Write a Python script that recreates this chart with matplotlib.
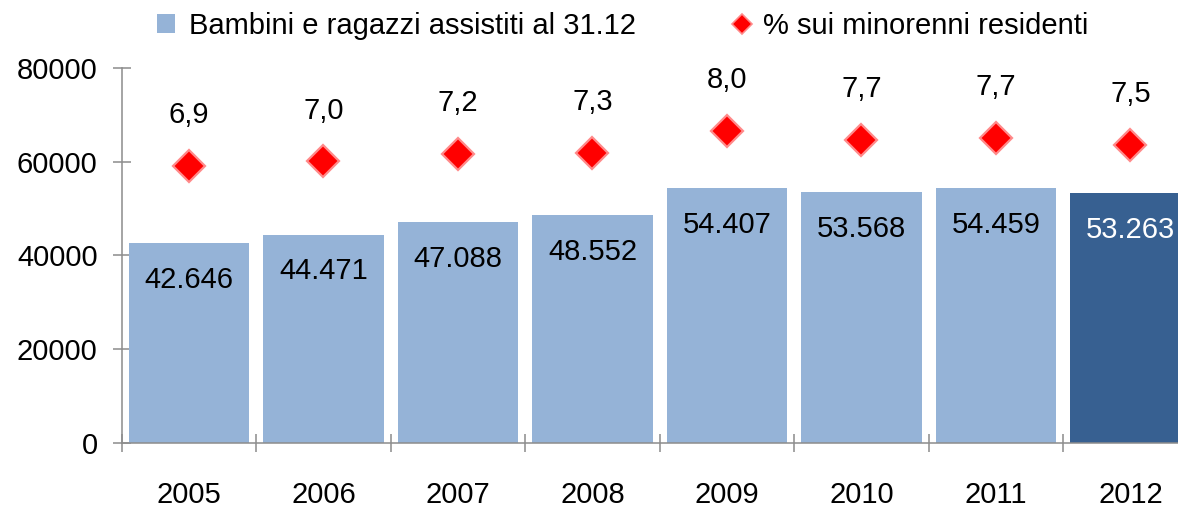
import matplotlib
matplotlib.use("Agg")
import matplotlib.pyplot as plt
from matplotlib.patches import Patch
from matplotlib.lines import Line2D
import numpy as np

plt.rcParams['font.family'] = ['Liberation Sans', 'DejaVu Sans']

years = ['2005', '2006', '2007', '2008', '2009', '2010', '2011', '2012']
assistiti = [42646, 44471, 47088, 48552, 54407, 53568, 54459, 53263]
assistiti_labels = ['42.646', '44.471', '47.088', '48.552', '54.407', '53.568', '54.459', '53.263']
percent = [6.87, 7.00, 7.24, 7.26, 7.96, 7.67, 7.74, 7.52]
percent_labels = ['6,9', '7,0', '7,2', '7,3', '8,0', '7,7', '7,7', '7,5']
yticks = [0, 20000, 40000, 60000, 80000]

light = '#95B3D7'
dark = '#376091'
grey = '#8C8C8C'
FS = 21

W, H = 1178, 509
fig = plt.figure(figsize=(W / 100, H / 100), dpi=100)
left_px, right_px, top_px, bot_px = 121.7, 1197.7, 67.7, 443.3
ax = fig.add_axes([left_px / W, 1 - bot_px / H, (right_px - left_px) / W, (bot_px - top_px) / H])

x = np.arange(len(years))
colors = [light] * (len(years) - 1) + [dark]
bars = ax.bar(x, assistiti, width=0.895, color=colors, zorder=2)
ax.set_xlim(-0.5, len(years) - 0.5)
ax.set_ylim(0, 80000)
ax.set_yticks(yticks)
ax.set_yticklabels([str(v) for v in yticks], fontsize=FS)
ax.set_xticks(x)
ax.set_xticklabels(years, fontsize=FS)
ax.set_xticks(np.arange(len(years) + 1) - 0.5, minor=True)
ax.tick_params(axis='x', which='major', length=0, pad=27.5)
ax.tick_params(axis='x', which='minor', direction='inout', length=12.7, width=1.1, color=grey)
ax.tick_params(axis='y', which='major', direction='inout', length=12.7, width=1.1, color=grey, pad=11)
for s in ['top', 'right']:
    ax.spines[s].set_visible(False)
for s in ['left', 'bottom']:
    ax.spines[s].set_color(grey)
    ax.spines[s].set_linewidth(1.1)

for i, (v, lab) in enumerate(zip(assistiti, assistiti_labels)):
    ax.annotate(lab, (x[i], v), xytext=(0, -26.6), textcoords='offset points',
                ha='center', va='center', fontsize=FS,
                color='white' if i == len(years) - 1 else 'black', zorder=4)

ax2 = ax.twinx()
ax2.set_ylim(-1.81, 9.93)
ax2.set_xlim(-0.5, len(years) - 0.5)
ax2.axis('off')
ax2.plot(x, percent, linestyle='none', marker='D', markersize=16.5,
         markerfacecolor='#FF0000', markeredgecolor='#FF8A8A', markeredgewidth=1.6, zorder=3)
for i, (v, lab) in enumerate(zip(percent, percent_labels)):
    ax2.annotate(lab, (x[i], v), xytext=(0, 36.5), textcoords='offset points',
                 ha='center', va='center', fontsize=FS)

h1 = Patch(facecolor=light, edgecolor='none')
h2 = Line2D([], [], linestyle='none', marker='D', markersize=10.2,
            markerfacecolor='#FF0000', markeredgecolor='#FF8A8A', markeredgewidth=1.2)
fig.legend([h1], ['Bambini e ragazzi assistiti al 31.12'], loc='center left',
           bbox_to_anchor=(157 / W, 1 - 26 / H), bbox_transform=fig.transFigure,
           frameon=False, fontsize=FS, handlelength=0.62, handleheight=0.62,
           handletextpad=0.48, borderpad=0, borderaxespad=0)
fig.legend([h2], ['% sui minorenni residenti'], loc='center left',
           bbox_to_anchor=(733 / W, 1 - 26 / H), bbox_transform=fig.transFigure,
           frameon=False, fontsize=FS, handlelength=0.62, handleheight=0.62,
           handletextpad=0.42, borderpad=0, borderaxespad=0)

fig.savefig('out.png', dpi=100)
